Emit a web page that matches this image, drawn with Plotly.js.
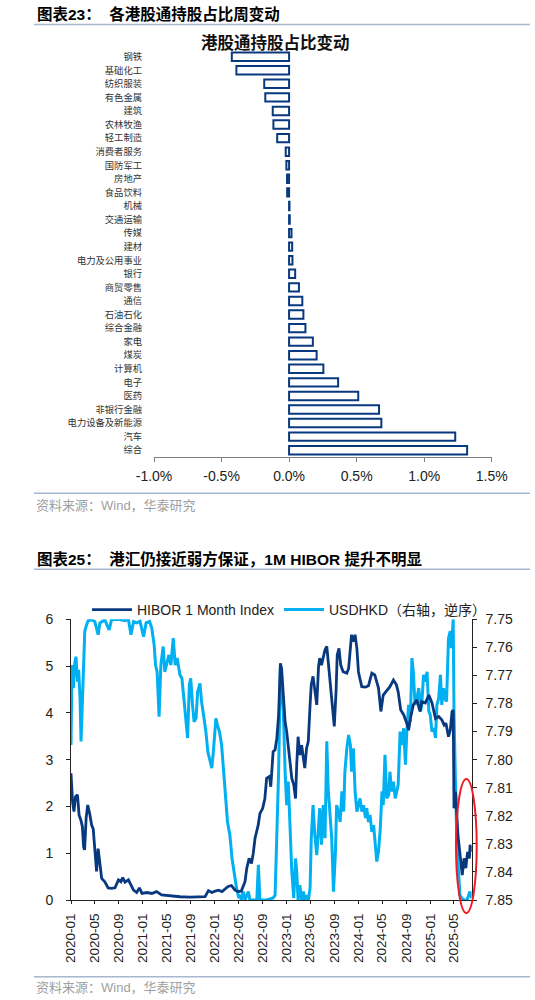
<!DOCTYPE html>
<html><head><meta charset="utf-8">
<script src="https://cdn.plot.ly/plotly-3.0.1.min.js"></script>
<style>html,body{margin:0;padding:0;background:#fff;}#chart{width:535px;height:1000px;}</style>
</head><body><div id="chart"></div>
<script>
// ---------- Data: 港股通持股占比周变动 (%) ----------
const industries = ['钢铁','基础化工','纺织服装','有色金属','建筑','农林牧渔','轻工制造','消费者服务','国防军工','房地产','食品饮料','机械','交通运输','传媒','建材','电力及公用事业','银行','商贸零售','通信','石油石化','综合金融','家电','煤炭','计算机','电子','医药','非银行金融','电力设备及新能源','汽车','综合'];
const holdingChange = [-0.424,-0.39,-0.184,-0.176,-0.121,-0.116,-0.088,-0.025,-0.02,-0.015,-0.014,0.003,0.005,0.018,0.023,0.025,0.045,0.073,0.098,0.106,0.121,0.176,0.204,0.254,0.363,0.512,0.666,0.683,1.23,1.318];
const barTickVals = [-1,-0.5,0,0.5,1,1.5];
const barTickText = ['-1.0%','-0.5%','0.0%','0.5%','1.0%','1.5%'];

// ---------- Data: HIBOR 1M & USDHKD ----------
const hiborDates = ['2020-01-01','2020-01-09','2020-01-16','2020-01-24','2020-02-03','2020-02-11','2020-02-20','2020-02-28','2020-03-05','2020-03-10','2020-03-18','2020-03-26','2020-04-05','2020-04-15','2020-04-23','2020-05-01','2020-05-10','2020-05-18','2020-05-27','2020-06-05','2020-06-21','2020-07-08','2020-07-25','2020-08-12','2020-08-29','2020-09-11','2020-09-20','2020-10-02','2020-10-19','2020-10-31','2020-11-14','2020-11-30','2020-12-14','2020-12-27','2021-01-21','2021-02-15','2021-03-11','2021-04-06','2021-05-18','2021-07-08','2021-08-28','2021-10-18','2021-11-13','2021-11-30','2021-12-17','2022-01-03','2022-01-20','2022-02-07','2022-02-23','2022-03-10','2022-03-27','2022-04-14','2022-04-30','2022-05-16','2022-06-04','2022-06-13','2022-06-25','2022-07-07','2022-07-16','2022-07-25','2022-08-10','2022-08-19','2022-09-02','2022-09-13','2022-09-22','2022-10-07','2022-10-13','2022-10-25','2022-11-04','2022-11-13','2022-11-22','2022-12-01','2022-12-07','2022-12-16','2022-12-25','2023-01-02','2023-01-10','2023-01-19','2023-01-28','2023-02-07','2023-02-16','2023-02-22','2023-03-01','2023-03-10','2023-03-19','2023-03-28','2023-04-04','2023-04-13','2023-04-22','2023-05-01','2023-05-07','2023-05-16','2023-05-25','2023-06-04','2023-06-13','2023-06-19','2023-06-28','2023-07-07','2023-07-16','2023-07-25','2023-08-01','2023-08-10','2023-08-19','2023-08-28','2023-09-01','2023-09-10','2023-09-16','2023-09-25','2023-10-04','2023-10-16','2023-11-04','2023-11-13','2023-11-22','2023-11-28','2023-12-07','2023-12-16','2023-12-25','2024-01-02','2024-01-10','2024-01-19','2024-02-07','2024-02-22','2024-03-10','2024-03-25','2024-04-13','2024-04-25','2024-05-07','2024-05-25','2024-06-10','2024-06-28','2024-07-13','2024-07-22','2024-08-04','2024-08-19','2024-09-04','2024-09-13','2024-09-22','2024-10-07','2024-10-25','2024-11-10','2024-11-19','2024-12-07','2024-12-25','2025-01-10','2025-01-28','2025-02-13','2025-03-01','2025-03-13','2025-03-22','2025-04-04','2025-04-13','2025-04-22','2025-04-28','2025-05-02','2025-05-10','2025-05-22','2025-05-28','2025-06-07','2025-06-13','2025-06-22','2025-07-01','2025-07-10','2025-07-19','2025-07-23','2025-07-31'];
const hiborValues = [2.71,2.10,1.89,2.21,2.25,1.82,1.71,1.57,1.14,1.07,1.75,2.03,1.85,1.60,1.52,1.00,0.61,1.10,0.78,0.46,0.39,0.26,0.25,0.26,0.43,0.39,0.48,0.38,0.43,0.32,0.21,0.16,0.26,0.14,0.16,0.14,0.18,0.11,0.09,0.07,0.06,0.06,0.07,0.20,0.16,0.19,0.21,0.18,0.24,0.29,0.31,0.21,0.18,0.19,0.39,0.68,0.89,0.78,1.00,1.32,1.60,1.85,1.96,2.17,2.60,2.64,2.42,3.17,3.21,3.46,3.96,5.06,4.95,4.45,3.81,3.60,3.24,2.96,2.60,2.46,2.17,2.89,3.49,3.10,3.31,3.03,2.82,3.24,3.39,4.17,4.60,4.78,4.53,4.17,4.99,5.17,5.02,5.20,5.35,5.42,5.10,4.81,4.24,3.88,3.71,4.45,5.24,5.38,5.02,4.88,4.85,4.95,5.38,5.67,5.52,5.67,5.38,4.88,4.72,4.56,4.55,4.58,4.85,4.81,4.53,4.03,4.38,4.49,4.56,4.70,4.60,4.45,4.06,3.96,3.78,3.63,3.88,4.17,4.28,4.03,4.24,4.21,4.38,4.21,3.88,3.92,3.85,3.74,3.78,3.49,3.63,4.03,4.06,1.96,2.32,1.39,1.18,0.82,0.53,0.89,0.68,1.03,0.89,1.18,1.03];

const usdhkdDates = ['2020-01-01','2020-01-06','2020-01-13','2020-01-19','2020-01-26','2020-02-03','2020-02-09','2020-02-16','2020-02-21','2020-02-26','2020-03-03','2020-03-11','2020-03-20','2020-03-28','2020-04-15','2020-05-01','2020-05-18','2020-05-27','2020-06-21','2020-07-13','2020-07-25','2020-08-29','2020-10-02','2020-10-19','2020-11-01','2020-11-14','2020-11-30','2020-12-17','2021-01-04','2021-01-17','2021-02-04','2021-02-15','2021-02-27','2021-03-06','2021-03-14','2021-03-24','2021-04-02','2021-04-14','2021-04-22','2021-05-01','2021-05-13','2021-05-23','2021-06-04','2021-06-14','2021-06-24','2021-07-08','2021-07-18','2021-07-28','2021-08-08','2021-08-16','2021-08-25','2021-09-01','2021-09-10','2021-09-18','2021-09-28','2021-10-06','2021-10-18','2021-10-26','2021-11-05','2021-11-17','2021-11-27','2021-12-08','2021-12-17','2021-12-25','2022-01-07','2022-01-15','2022-01-25','2022-02-05','2022-02-15','2022-02-27','2022-03-07','2022-03-19','2022-03-30','2022-04-12','2022-04-22','2022-05-04','2022-05-09','2022-05-16','2022-05-26','2022-06-04','2022-06-21','2022-06-29','2022-07-16','2022-08-03','2022-08-11','2022-08-19','2022-09-22','2022-10-25','2022-11-04','2022-11-13','2022-11-22','2022-12-01','2022-12-07','2022-12-16','2022-12-25','2023-01-02','2023-01-10','2023-01-19','2023-01-28','2023-02-07','2023-02-16','2023-02-22','2023-03-01','2023-03-10','2023-03-19','2023-03-28','2023-04-04','2023-04-13','2023-04-22','2023-05-01','2023-05-07','2023-05-16','2023-05-25','2023-06-04','2023-06-13','2023-06-19','2023-06-28','2023-07-07','2023-07-16','2023-07-25','2023-08-01','2023-08-10','2023-08-19','2023-08-28','2023-09-07','2023-09-13','2023-09-22','2023-10-01','2023-10-10','2023-10-19','2023-10-25','2023-11-04','2023-11-13','2023-11-22','2023-11-28','2023-12-07','2023-12-16','2023-12-25','2024-01-02','2024-01-10','2024-01-19','2024-01-28','2024-02-07','2024-02-13','2024-02-22','2024-03-01','2024-03-10','2024-03-19','2024-03-25','2024-04-04','2024-04-13','2024-04-22','2024-05-01','2024-05-07','2024-05-16','2024-05-25','2024-06-04','2024-06-10','2024-06-19','2024-06-28','2024-07-07','2024-07-16','2024-07-22','2024-08-01','2024-08-10','2024-08-19','2024-08-28','2024-09-04','2024-09-13','2024-09-22','2024-09-30','2024-10-07','2024-10-16','2024-10-25','2024-11-04','2024-11-13','2024-11-19','2024-11-28','2024-12-07','2024-12-16','2024-12-25','2025-01-01','2025-01-10','2025-01-19','2025-01-28','2025-02-04','2025-02-13','2025-02-22','2025-03-01','2025-03-10','2025-03-16','2025-03-25','2025-04-04','2025-04-13','2025-04-19','2025-04-28','2025-05-02','2025-05-10','2025-05-16','2025-05-25','2025-06-01','2025-06-10','2025-06-19','2025-07-07','2025-07-22','2025-07-31'];
const usdhkdValues = [7.7948,7.7663,7.7745,7.7663,7.7633,7.7722,7.768,7.7782,7.7935,7.784,7.7687,7.7543,7.752,7.7505,7.7502,7.7508,7.7555,7.7513,7.7502,7.7538,7.7502,7.75,7.7505,7.75,7.7555,7.7508,7.7513,7.7507,7.7562,7.7513,7.7508,7.7532,7.7592,7.7663,7.7687,7.7847,7.7663,7.7597,7.7687,7.7657,7.7627,7.7663,7.7567,7.7663,7.7638,7.7698,7.771,7.7782,7.7858,7.7923,7.7733,7.771,7.7805,7.7865,7.7853,7.7758,7.7728,7.7793,7.784,7.79,7.7972,7.8007,7.803,7.7972,7.7853,7.7877,7.79,7.7948,7.803,7.8138,7.8222,7.8268,7.8352,7.8412,7.8458,7.8493,7.8482,7.85,7.847,7.85,7.847,7.85,7.85,7.85,7.8375,7.85,7.85,7.8493,7.8483,7.828,7.8043,7.7675,7.7733,7.7828,7.8043,7.8162,7.8078,7.828,7.8398,7.8493,7.8352,7.8398,7.85,7.8447,7.85,7.847,7.85,7.8483,7.85,7.8458,7.828,7.8162,7.8268,7.834,7.8222,7.8173,7.8303,7.8162,7.828,7.7935,7.8102,7.8185,7.828,7.847,7.8328,7.8162,7.8185,7.8222,7.8113,7.8185,7.8043,7.796,7.7912,7.7948,7.8043,7.796,7.8113,7.8185,7.8162,7.8138,7.8185,7.8162,7.8208,7.8173,7.8222,7.8197,7.8257,7.8233,7.828,7.8363,7.8328,7.8245,7.8113,7.8162,7.7983,7.8138,7.8125,7.8043,7.8113,7.8078,7.8138,7.8102,7.809,7.79,7.7948,7.7888,7.8018,7.79,7.7805,7.7865,7.7638,7.7687,7.7805,7.7782,7.7745,7.7828,7.7805,7.7698,7.7722,7.7687,7.7828,7.784,7.79,7.7888,7.7923,7.7805,7.7782,7.7698,7.7805,7.7745,7.7782,7.7793,7.7567,7.7542,7.7603,7.75,7.7833,7.8102,7.828,7.8398,7.8482,7.8493,7.85,7.85,7.847,7.8493];

const dateTicks = ['2020-01-01','2020-05-01','2020-09-01','2021-01-01','2021-05-01','2021-09-01','2022-01-01','2022-05-01','2022-09-01','2023-01-01','2023-05-01','2023-09-01','2024-01-01','2024-05-01','2024-09-01','2025-01-01','2025-05-01'];
const hiborTicks = [0,1,2,3,4,5,6];
const usdhkdTicks = [7.75,7.76,7.77,7.78,7.79,7.80,7.81,7.82,7.83,7.84,7.85];

// ---------- Helpers ----------
const W = 535, H = 1000;
const px = v => v / W;
const py = v => 1 - v / H;
const LAT = 'Liberation Sans, Arial, Noto Sans CJK SC, sans-serif';
const CJK = 'Noto Sans CJK SC, sans-serif';
const NAVY = '#08397f';
const LIGHT = '#00b0f0';
const AX = '#222222';
const RULE = '#a6b8cf';

const data = [
  {type:'bar', orientation:'h', y: industries, x: holdingChange, xaxis:'x', yaxis:'y',
   marker:{color:'#ffffff', line:{color:NAVY, width:2}}, showlegend:false, hoverinfo:'skip'},
  {type:'scatter', mode:'lines', name:'USDHKD（右轴，逆序）', x: usdhkdDates, y: usdhkdValues,
   xaxis:'x2', yaxis:'y2', line:{color:LIGHT, width:3}, legendrank:2},
  {type:'scatter', mode:'lines', name:'HIBOR 1 Month Index', x: hiborDates, y: hiborValues,
   xaxis:'x2', yaxis:'y3', line:{color:NAVY, width:2.8}, legendrank:1}
];

const layout = {
  width: W, height: H,
  margin: {l:0, r:0, t:0, b:0},
  paper_bgcolor: '#ffffff', plot_bgcolor: 'rgba(0,0,0,0)',
  font: {family: LAT, size: 14, color: AX},
  bargap: 0.38,
  showlegend: true,
  xaxis: {domain:[px(154), px(491.7)], anchor:'y', range:[-1, 1.5],
    tickmode:'array', tickvals: barTickVals, ticktext: barTickText,
    ticks:'outside', ticklen:4, tickcolor:'#7f7f7f', showline:true, linecolor:'#7f7f7f', linewidth:1,
    showgrid:false, zeroline:false, tickfont:{family:LAT, size:14, color:AX}, ticklabelstandoff:2},
  yaxis: {domain:[py(457), py(49.9)], anchor:'x', type:'category', autorange:'reversed',
    tickmode:'array', tickvals: industries, ticktext: industries,
    showline:false, ticks:'', showgrid:false, zeroline:false,
    tickfont:{family:CJK, size:9.3, color:'#333'}, ticklabelstandoff:11},
  yaxis4: {overlaying:'y', anchor:'free', position: px(289), side:'left',
    range:[29.5, -0.5], tickmode:'linear', tick0:-0.5, dtick:1,
    showticklabels:false, ticks:'outside', ticklen:4, tickcolor:AX,
    showline:true, linecolor:AX, linewidth:1, showgrid:false, zeroline:false},
  xaxis2: {domain:[px(71), px(471.7)], anchor:'y2', type:'date', range:['2020-01-01','2025-07-31'],
    tickmode:'array', tickvals: dateTicks, tickformat:'%Y-%m', tickangle:-90,
    ticks:'outside', ticklen:3, tickcolor:AX, showline:true, linecolor:AX, linewidth:1,
    showgrid:false, zeroline:false, tickfont:{family:LAT, size:13.5, color:AX}, ticklabelstandoff:4},
  yaxis2: {domain:[py(900), py(619.3)], anchor:'x2', side:'right', range:[7.85, 7.75],
    tickmode:'array', tickvals: usdhkdTicks, tickformat:'.2f',
    ticks:'outside', ticklen:4, tickcolor:AX, showline:true, linecolor:AX, linewidth:1,
    showgrid:false, zeroline:false, tickfont:{family:LAT, size:14, color:AX}, ticklabelstandoff:6},
  yaxis3: {overlaying:'y2', anchor:'x2', side:'left', range:[0, 6],
    tickmode:'array', tickvals: hiborTicks,
    ticks:'outside', ticklen:4, tickcolor:AX, showline:true, linecolor:AX, linewidth:1,
    showgrid:false, zeroline:false, tickfont:{family:LAT, size:14, color:AX}, ticklabelstandoff:10},
  legend: {orientation:'h', x: px(87), xanchor:'left', y: py(610), yanchor:'middle', itemwidth:40,
    font:{family:LAT, size:14, color:AX}, bgcolor:'rgba(0,0,0,0)', borderwidth:0, traceorder:'normal'},
  annotations: [
    {text:'<b>图表23：\u00a0\u00a0各港股通持股占比周变动</b>', xref:'paper', yref:'paper', x:px(35), y:py(14),
     xanchor:'left', yanchor:'middle', showarrow:false, font:{family:LAT, size:15.5, color:'#000'}},
    {text:'<b>港股通持股占比变动</b>', xref:'paper', yref:'paper', x:px(275.7), y:py(42),
     xanchor:'center', yanchor:'middle', showarrow:false, font:{family:CJK, size:16.5, color:'#111'}},
    {text:'资料来源：Wind，华泰研究', xref:'paper', yref:'paper', x:px(34), y:py(505),
     xanchor:'left', yanchor:'middle', showarrow:false, font:{family:LAT, size:13, color:'#a0a0a0'}},
    {text:'<b>图表25：\u00a0\u00a0港汇仍接近弱方保证，1M HIBOR 提升不明显</b>', xref:'paper', yref:'paper', x:px(35), y:py(559.3),
     xanchor:'left', yanchor:'middle', showarrow:false, font:{family:LAT, size:15.5, color:'#000'}},
    {text:'资料来源：Wind，华泰研究', xref:'paper', yref:'paper', x:px(34), y:py(987.7),
     xanchor:'left', yanchor:'middle', showarrow:false, font:{family:LAT, size:13, color:'#a0a0a0'}}
  ],
  shapes: [
    {type:'line', xref:'paper', yref:'paper', x0:px(34), x1:px(530), y0:py(24.5), y1:py(24.5), line:{color:RULE, width:1.5}},
    {type:'line', xref:'paper', yref:'paper', x0:px(34), x1:px(530), y0:py(493.3), y1:py(493.3), line:{color:RULE, width:1.5}},
    {type:'line', xref:'paper', yref:'paper', x0:px(34), x1:px(530), y0:py(569.3), y1:py(569.3), line:{color:RULE, width:1.5}},
    {type:'line', xref:'paper', yref:'paper', x0:px(34), x1:px(530), y0:py(976.7), y1:py(976.7), line:{color:RULE, width:1.5}},
    {type:'circle', xref:'paper', yref:'paper', x0:px(456), x1:px(476.7), y0:py(913), y1:py(779), line:{color:'#ee1c24', width:2}}
  ]
};

Plotly.newPlot('chart', data, layout, {staticPlot:true, displayModeBar:false});
</script>
</body></html>
